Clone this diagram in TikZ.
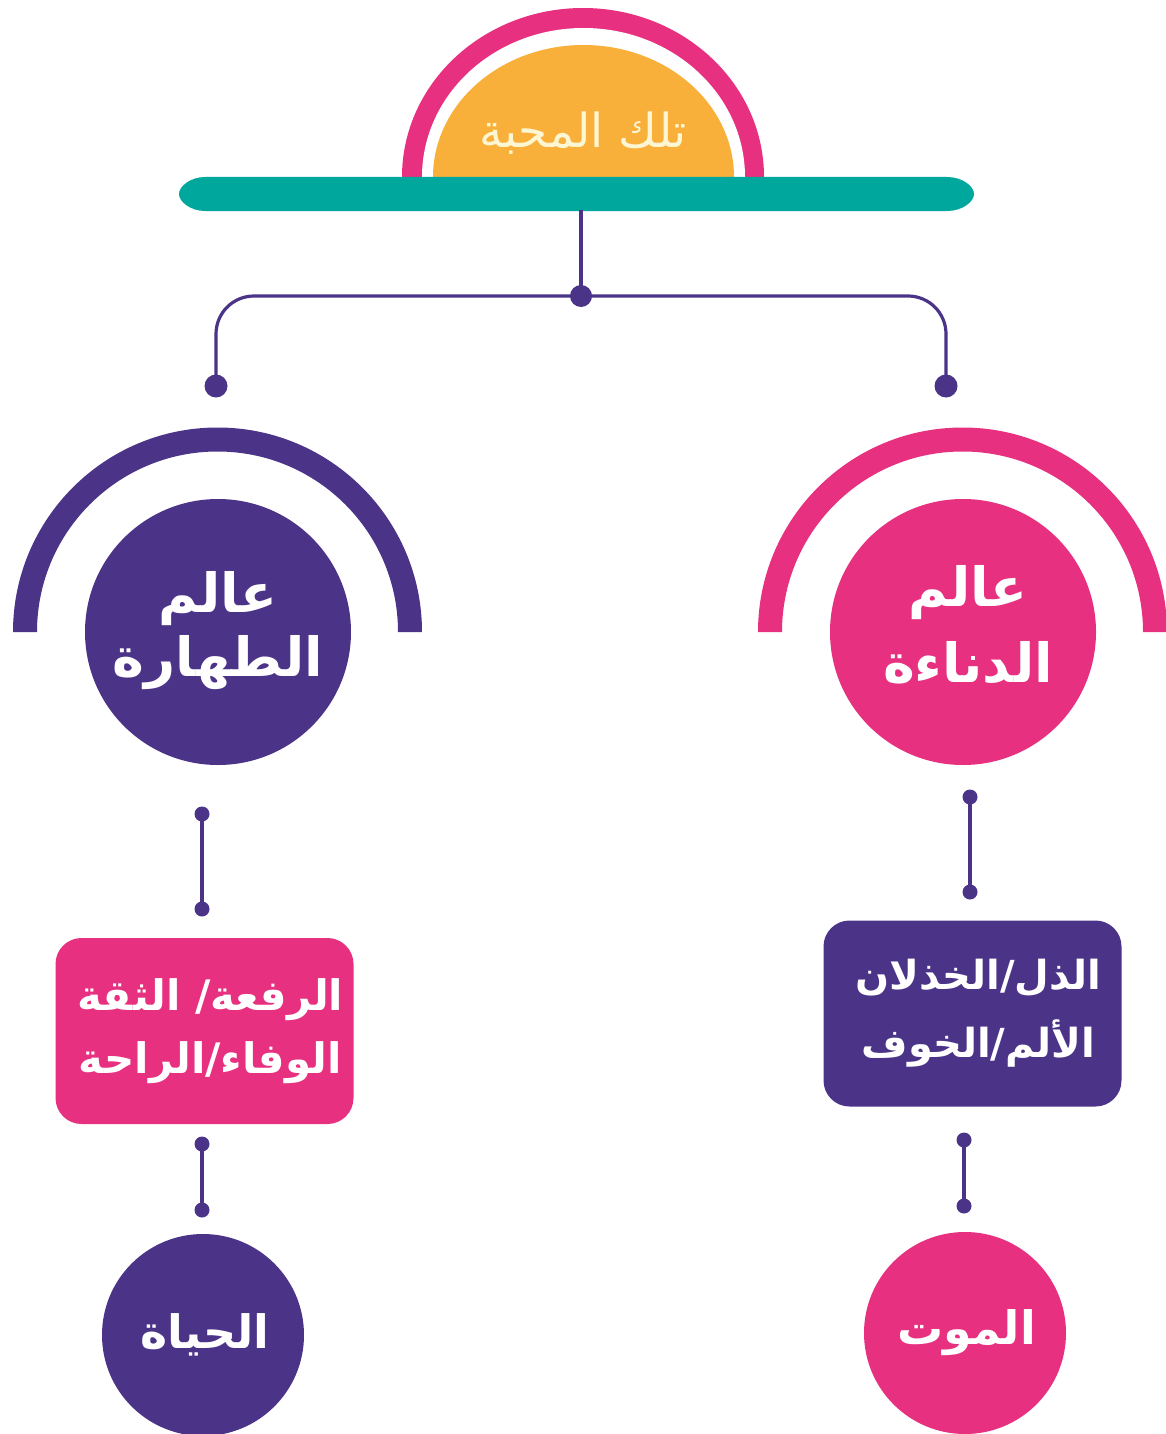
\documentclass[tikz,border=0pt]{standalone}
\usepackage{fontspec}
\TeXXeTstate=1
\newfontfamily\arabicfont[Script=Arabic]{DejaVu Sans}
\definecolor{cpink}{HTML}{E7307F}
\definecolor{cpurple}{HTML}{4B3388}
\definecolor{cteal}{HTML}{00A79D}
\definecolor{corange}{HTML}{F9B03A}
\definecolor{ccream}{HTML}{FDF6D3}
\newcommand{\rtl}[1]{\beginR #1\endR}
\tikzset{
  x=1pt,y=-1pt,
  disc/.style={circle,fill=#1,inner sep=0pt,text=white,align=center,font=\arabicfont\bfseries},
  tag/.style={rounded corners=26pt,fill=#1,inner sep=0pt,text=white,align=center,minimum width=298pt,minimum height=186pt,font=\arabicfont\bfseries},
  dot/.style={circle,fill=cpurple,inner sep=0pt,outer sep=0pt,minimum size=#1},
  link/.style={draw=cpurple,line width=3.2pt,shorten <=-1.5pt,shorten >=-1.5pt},
}
\begin{document}
\begin{tikzpicture}
\useasboundingbox (0,0) rectangle (1165,1434);
\fill[white] (0,0) rectangle (1165,1434);
% top dome
\fill[cpink] (402,177) arc[start angle=180,end angle=360,x radius=181,y radius=169] -- cycle;
\fill[white] (422,177) arc[start angle=180,end angle=360,x radius=161.5,y radius=149] -- cycle;
\fill[corange] (433,177) arc[start angle=180,end angle=360,x radius=150.5,y radius=132] -- cycle;
\fill[cteal] (205,177) -- (947,177) .. controls (962,177) and (974,186) .. (974,194) .. controls (974,202) and (962,211) .. (947,211) -- (205,211) .. controls (191,211) and (179,202) .. (179,194) .. controls (179,186) and (191,177) .. (205,177) -- cycle;
\node[font=\arabicfont\fontsize{47}{56}\selectfont,text=ccream,inner sep=0pt] (title) at (583,133) {\rtl{تلك المحبة}};
\coordinate (barc) at (581,211);
% connectors top
\node[dot=22pt] (hub) at (581,296) {};
\node[dot=23pt] (dl) at (216,386) {};
\node[dot=23pt] (dr) at (946,386) {};
\draw[link] (barc) -- (hub);
\draw[link,rounded corners=38pt] (dl) -- (216,296) -- (hub);
\draw[link,rounded corners=38pt] (dr) -- (946,296) -- (hub);
% arcs
\fill[cpurple] (13,632) arc[start angle=180,end angle=360,radius=204.5] -- (398,632) arc[start angle=360,end angle=180,radius=180.5] -- cycle;
\fill[cpink] (758,632) arc[start angle=180,end angle=360,radius=204.5] -- (1143,632) arc[start angle=360,end angle=180,radius=180.5] -- cycle;
\node[disc=cpurple,minimum size=266pt] (wl) at (218,632) {\raisebox{9pt}{\fontsize{54}{64}\selectfont\begin{tabular}{@{}c@{}}\rtl{عالم}\\\rtl{الطهارة}\end{tabular}}};
\node[disc=cpink,minimum size=266pt] (wr) at (963,632) {\hspace*{10pt}\raisebox{1pt}{\fontsize{54}{64}\selectfont\begin{tabular}{@{}c@{}}\rtl{عالم}\\[12pt]\rtl{الدناءة}\end{tabular}}};
% left column
\node[dot=15pt] (a1) at (202,814) {};
\node[dot=15pt] (a2) at (202,909) {};
\draw[link] (a1) -- (a2);
\node[tag=cpink] (bl) at (204.5,1031) {\fontsize{42}{50}\selectfont\hspace*{12pt}\rtl{الرفعة/ الثقة}\\[20pt]\fontsize{42}{50}\selectfont\hspace*{12pt}\rtl{الوفاء/الراحة}};
\node[dot=15pt] (a3) at (202,1144) {};
\node[dot=15pt] (a4) at (202,1210) {};
\draw[link] (a3) -- (a4);
\node[disc=cpurple,minimum size=202pt] (life) at (203,1335) {\hspace*{4pt}\raisebox{-4pt}{\fontsize{46}{56}\selectfont\rtl{الحياة}}};
% right column
\node[dot=15pt] (b1) at (970,797) {};
\node[dot=15pt] (b2) at (970,892) {};
\draw[link] (b1) -- (b2);
\node[tag=cpurple] (br) at (972.5,1013.5) {\fontsize{40}{48}\selectfont\hspace*{12pt}\rtl{الذل/الخذلان}\\[22pt]\fontsize{40}{48}\selectfont\hspace*{12pt}\rtl{الألم/الخوف}};
\node[dot=15pt] (b3) at (964,1140) {};
\node[dot=15pt] (b4) at (964,1206) {};
\draw[link] (b3) -- (b4);
\node[disc=cpink,minimum size=202pt] (death) at (965,1333) {\hspace*{3pt}\raisebox{-4pt}{\fontsize{46}{56}\selectfont\rtl{الموت}}};
\end{tikzpicture}
\end{document}
